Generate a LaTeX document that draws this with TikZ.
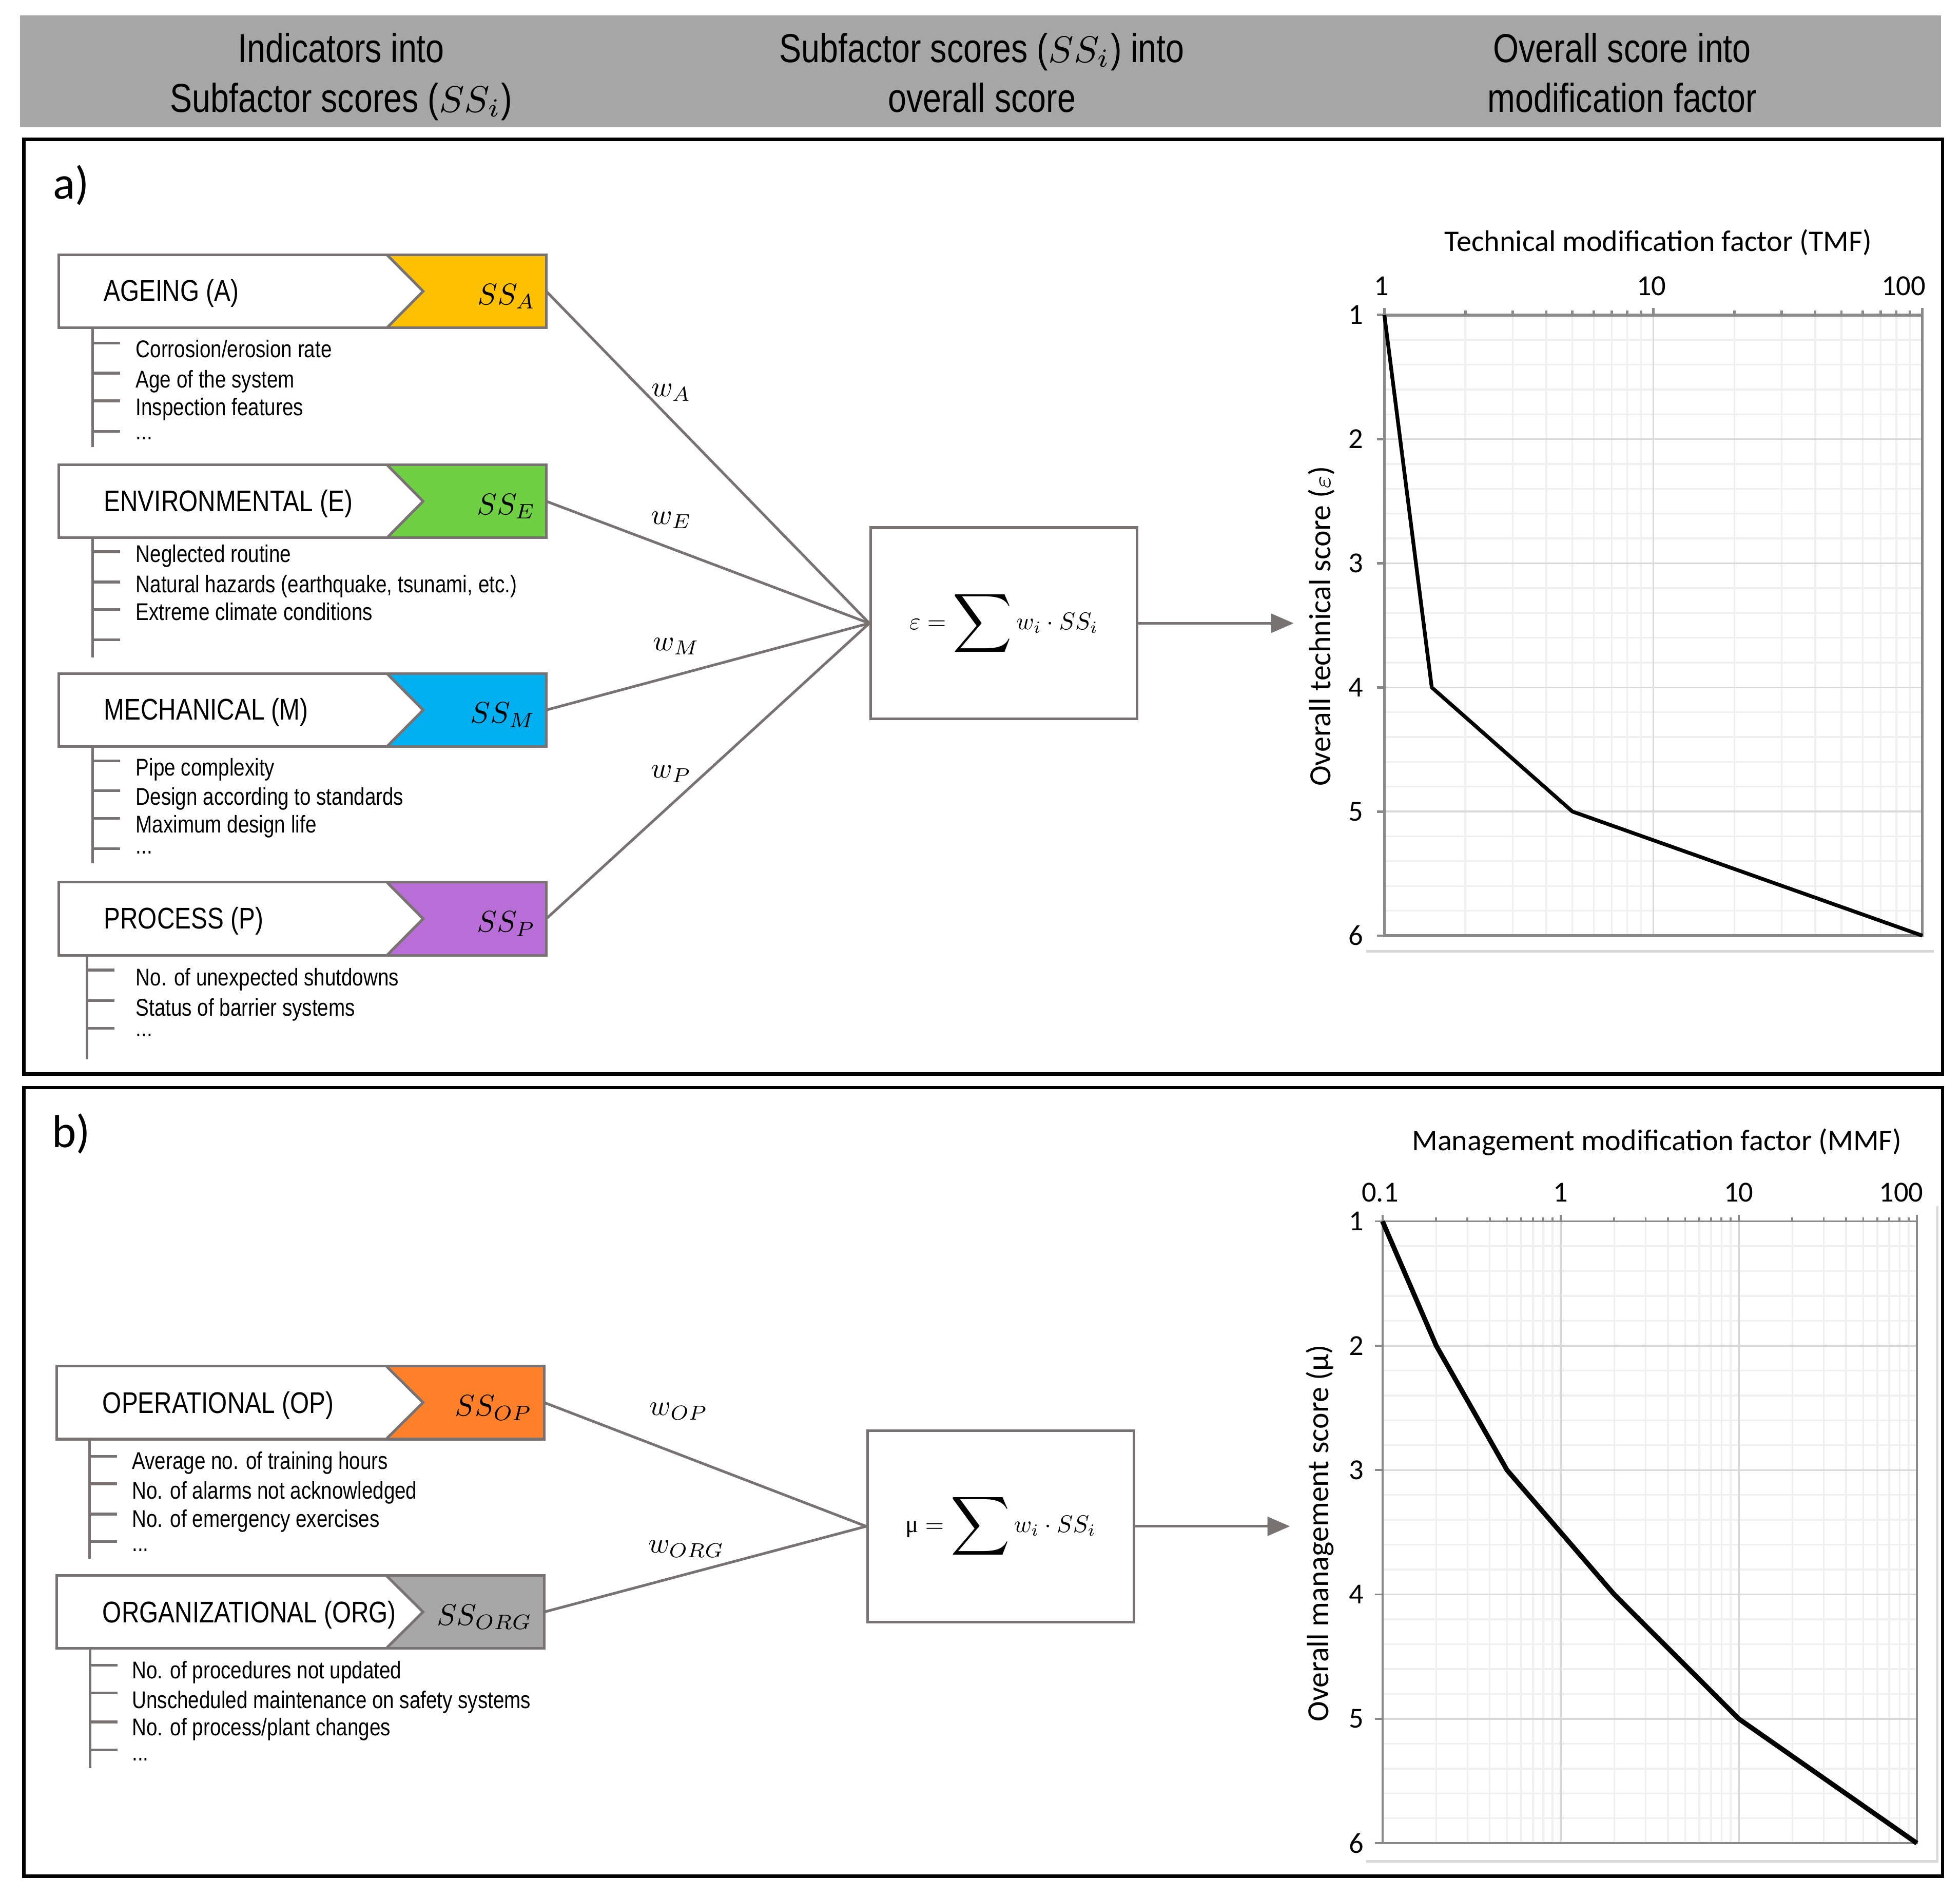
\RequirePackage{fix-cm}
\documentclass[tikz,border=0pt]{standalone}
\usepackage{fontspec}
\usepackage{graphicx}
\usepackage{tikz}
\usetikzlibrary{arrows.meta,positioning,calc}

\newfontfamily\narrowsf[FakeStretch=0.82]{Liberation Sans}
\newfontfamily\chartsf{Carlito}
\newfontfamily\muserif{Liberation Serif}

\definecolor{linegray}{RGB}{120,114,114}
\definecolor{headgray}{RGB}{166,166,166}
\definecolor{ssyellow}{RGB}{255,192,0}
\definecolor{ssgreen}{RGB}{110,208,66}
\definecolor{ssblue}{RGB}{0,176,240}
\definecolor{sspurple}{RGB}{185,110,215}
\definecolor{ssorange}{RGB}{255,128,40}
\definecolor{ssgray}{RGB}{166,166,166}
\definecolor{gridmaj}{RGB}{217,217,217}
\definecolor{gridmin}{RGB}{240,240,240}
\definecolor{axisgray}{RGB}{137,137,137}

\newcommand{\wsum}{\mathop{\vcenter{\hbox{\scalebox{1.7}{$\displaystyle\sum$}}}}}

\begin{document}
\begin{tikzpicture}[x=0.1mm,y=-0.1mm,
  factor/.style={minimum width=39mm,minimum height=5.85mm,inner sep=0pt,outer sep=0pt},
  boxline/.style={draw=linegray,line width=0.6pt},
  link/.style={linegray,line width=0.6pt},
  flow/.style={linegray,line width=0.6pt,-{Triangle[length=1.8mm,width=1.5mm]}},
  treeline/.style={linegray,line width=0.6pt},
  factorlab/.style={anchor=base west,inner sep=0pt,font=\narrowsf\fontsize{6.8}{8}\selectfont},
  sslab/.style={anchor=base east,inner sep=0pt,font=\fontsize{10}{12}\selectfont},
  wlab/.style={inner sep=0pt,font=\fontsize{10}{12}\selectfont},
  item/.style={anchor=base west,inner sep=0pt,font=\narrowsf\fontsize{5.5}{6.6}\selectfont},
  sumbox/.style={draw=linegray,line width=0.6pt,minimum width=21.3mm,minimum height=15.3mm,inner sep=0pt,font=\fontsize{10}{12}\selectfont},
  panel/.style={draw=black,line width=0.8pt},
  panlab/.style={inner sep=0pt,font=\chartsf\fontsize{10.5}{12}\selectfont},
  headtxt/.style={anchor=base,inner sep=0pt,font=\narrowsf\fontsize{9.2}{11}\selectfont},
  chartlab/.style={inner sep=0pt,font=\chartsf\fontsize{6.6}{8}\selectfont},
  charttitle/.style={anchor=base,inner sep=0pt,font=\chartsf\fontsize{6.8}{8}\selectfont},
  yaxtitle/.style={rotate=90,inner sep=0pt,font=\chartsf\fontsize{7}{8}\selectfont},
  gridmajor/.style={draw=gridmaj,line width=0.4pt},
  gridminor/.style={draw=gridmin,line width=0.4pt},
  axisline/.style={draw=axisgray,line width=0.55pt},
  chartframe/.style={draw=gridmaj,line width=0.5pt},
  curve/.style={black,line width=0.85pt,line join=round}]

  \useasboundingbox (0,0) rectangle (1568,1518);

  % ===== Header band =====
  \fill[headgray] (16,12.3) rectangle (1553,101.7);
  \node[headtxt] (head-1a) at (273,50) {Indicators into};
  \node[headtxt] (head-1b) at (273,89.7) {Subfactor scores (\scalebox{0.92}{$SS_i$})};
  \node[headtxt] (head-2a) at (785.5,50) {Subfactor scores (\scalebox{0.92}{$SS_i$}) into};
  \node[headtxt] (head-2b) at (785.5,89.7) {overall score};
  \node[headtxt] (head-3a) at (1297.7,50) {Overall score into};
  \node[headtxt] (head-3b) at (1297.7,89.7) {modification factor};

  % ===== Panels =====
  \draw[panel] (19,111.5) rectangle (1554,859);
  \draw[panel] (19,870) rectangle (1554,1501);
  \node[panlab] (panel-a) at (57,148) {a)};
  \node[panlab] (panel-b) at (57,907) {b)};

  % ===== a) technical subfactors =====
  \foreach \nm/\cy/\col/\lab/\subs in {ageing/233/ssyellow/AGEING (A)/A,
      environ/401/ssgreen/ENVIRONMENTAL (E)/E,
      mechan/568/ssblue/MECHANICAL (M)/M,
      process/735/sspurple/PROCESS (P)/P} {
    \node[factor] (\nm) at (242,\cy) {};
    \fill[\col] ([xshift=-12.75mm]\nm.north east) -- (\nm.north east) -- (\nm.south east)
      -- ([xshift=-12.75mm]\nm.south east) -- ([xshift=-9.85mm]\nm.east) -- cycle;
    \draw[boxline] ([xshift=-12.75mm]\nm.north east) -- ([xshift=-9.85mm]\nm.east)
      -- ([xshift=-12.75mm]\nm.south east);
    \draw[boxline] (\nm.south west) rectangle (\nm.north east);
    \node[factorlab] (\nm-lab) at ([xshift=3.55mm,yshift=-0.8mm]\nm.west) {\lab};
    \node[sslab] (\nm-ss) at ([xshift=-0.8mm,yshift=-1.05mm]\nm.east) {\scalebox{0.68}{$SS_{\subs}$}};
  }

  % --- ageing indicators
  \draw[treeline] ([xshift=2.7mm]ageing.south west) -- ++(0,95.4);
  \foreach \ty in {274.4,298.5,320.7,345} \draw[treeline] (74,\ty) -- ++(22,0);
  \node[item] (ageing-1) at (108,286) {Corrosion/erosion rate};
  \node[item] (ageing-2) at (108,310.3) {Age of the system};
  \node[item] (ageing-3) at (108,332.5) {Inspection features};
  \node[item] (ageing-4) at (108,351.5) {...};

  % --- environmental indicators
  \draw[treeline] ([xshift=2.7mm]environ.south west) -- ++(0,95.9);
  \foreach \ty in {441.4,465.6,487.4,511.9} \draw[treeline] (74,\ty) -- ++(22,0);
  \node[item] (environ-1) at (108,450) {Neglected routine};
  \node[item] (environ-2) at (108,474.2) {Natural hazards (earthquake, tsunami, etc.)};
  \node[item] (environ-3) at (108,496) {Extreme climate conditions};

  % --- mechanical indicators
  \draw[treeline] ([xshift=2.7mm]mechan.south west) -- ++(0,93.4);
  \foreach \ty in {608.6,632.6,654.6,678.8} \draw[treeline] (74,\ty) -- ++(22,0);
  \node[item] (mechan-1) at (108,620.6) {Pipe complexity};
  \node[item] (mechan-2) at (108,643.9) {Design according to standards};
  \node[item] (mechan-3) at (108,666.3) {Maximum design life};
  \node[item] (mechan-4) at (108,683) {...};

  % --- process indicators
  \draw[treeline] ([xshift=2.27mm,yshift=0.1mm]process.south west) -- ++(0,84);
  \foreach \ty in {776,800.5,822.6} \draw[treeline] (69.7,\ty) -- ++(22,0);
  \node[item] (process-1) at (108,788.4) {No. of unexpected shutdowns};
  \node[item] (process-2) at (108,812.6) {Status of barrier systems};
  \node[item] (process-3) at (108,829) {...};

  % --- weights into overall technical score
  \node[sumbox] (sumA) at (803,498.6) {\scalebox{0.55}{$\varepsilon = \wsum w_i \cdot SS_i$}};
  \foreach \nm/\wl/\lx/\ly in {ageing/A/537/314, environ/E/537/416,
      mechan/M/541/517, process/P/537/619} {
    \draw[link] (\nm.east) -- (sumA.west);
    \node[wlab] (w-\nm) at (\lx,\ly) {\scalebox{0.66}{$w_{\wl}$}};
  }
  \coordinate (tmfin) at (1035,498.6);
  \draw[flow] (sumA) -- (tmfin);

  % ===== TMF chart =====
  \begin{scope}[shift={(1107.5,252)},x=21.52mm,y=-9.93mm]
    \foreach \d in {0,1}
      \foreach \k in {2,...,9}
        \draw[gridminor] ({\d+log10(\k)},0) -- ({\d+log10(\k)},5);
    \foreach \s in {1,...,24} \draw[gridminor] (0,\s/5) -- (2,\s/5);
    \foreach \s in {1,...,4} \draw[gridmajor] (0,\s) -- (2,\s);
    \draw[gridmajor] (1,0) -- (1,5);
    % axes and ticks
    \draw[axisline,line width=0.65pt] (0,0) rectangle (2,5);
    \foreach \d in {0,1}
      \foreach \k in {2,...,9}
        \draw[axisline] ({\d+log10(\k)},0) -- ++(0pt,0.35mm);
    \foreach \d in {0,1,2} \draw[axisline] (\d,0) -- ++(0pt,0.55mm);
    \foreach \s in {0,...,5} \draw[axisline] (0,\s) -- ++(-0.6mm,0pt);
    % curve
    \draw[curve] (0,0) -- ({log10(1.5)},3) -- ({log10(5)},4) -- (2,5);
    % tick labels
    \node[chartlab] (tmf-1) at ([xshift=-0.25mm,yshift=2.3mm]0,0) {1};
    \node[chartlab] (tmf-10) at ([xshift=-0.15mm,yshift=2.3mm]1,0) {10};
    \node[chartlab] (tmf-100) at ([xshift=-1.5mm,yshift=2.3mm]2,0) {100};
    \foreach \s in {1,...,6}
      \node[chartlab,anchor=east] (tsc-\s) at ([xshift=-1.63mm]0,\s-1) {\s};
  \end{scope}
  \draw[chartframe] (1093,761) -- (1547,761);
  \node[charttitle] (tmf-title) at (1326.6,201) {Technical modification factor (TMF)};
  \node[yaxtitle] (tsc-title) at (1057,501) {Overall technical score (\scalebox{0.8}{$\varepsilon$})};

  % ===== b) management subfactors =====
  \foreach \nm/\cy/\col/\lab/\subs in {operat/1122/ssorange/OPERATIONAL (OP)/OP,
      organ/1289.5/ssgray/ORGANIZATIONAL (ORG)/ORG} {
    \node[factor] (\nm) at (240.4,\cy) {};
    \fill[\col] ([xshift=-12.65mm]\nm.north east) -- (\nm.north east) -- (\nm.south east)
      -- ([xshift=-12.65mm]\nm.south east) -- ([xshift=-9.7mm]\nm.east) -- cycle;
    \draw[boxline] ([xshift=-12.65mm]\nm.north east) -- ([xshift=-9.7mm]\nm.east)
      -- ([xshift=-12.65mm]\nm.south east);
    \draw[boxline] (\nm.south west) rectangle (\nm.north east);
    \node[factorlab] (\nm-lab) at ([xshift=3.6mm,yshift=-0.85mm]\nm.west) {\lab};
    \node[sslab] (\nm-ss) at ([xshift=-0.9mm,yshift=-1.05mm]\nm.east) {\scalebox{0.68}{$SS_{\subs}$}};
  }

  % --- operational indicators
  \draw[treeline] ([xshift=2.62mm]operat.south west) -- ++(0,95.6);
  \foreach \ty in {1165,1187,1211.2,1233.2} \draw[treeline] (71.7,\ty) -- ++(22,0);
  \node[item] (operat-1) at (105,1175.4) {Average no. of training hours};
  \node[item] (operat-2) at (105,1199.1) {No. of alarms not acknowledged};
  \node[item] (operat-3) at (105,1221.5) {No. of emergency exercises};
  \node[item] (operat-4) at (105,1240.9) {...};

  % --- organizational indicators
  \draw[treeline] ([xshift=2.66mm]organ.south west) -- ++(0,95.75);
  \foreach \ty in {1332,1354.2,1377.5,1400} \draw[treeline] (72.1,\ty) -- ++(22,0);
  \node[item] (organ-1) at (105,1342.6) {No. of procedures not updated};
  \node[item] (organ-2) at (105,1366.5) {Unscheduled maintenance on safety systems};
  \node[item] (organ-3) at (105,1388.4) {No. of process/plant changes};
  \node[item] (organ-4) at (105,1408.3) {...};

  % --- weights into overall management score
  \node[sumbox] (sumB) at (800.5,1221) {\scalebox{0.55}{$\mbox{\muserif μ} = \wsum w_i \cdot SS_i$}};
  \foreach \nm/\wl/\lx/\ly in {operat/OP/543/1129, organ/ORG/549/1239} {
    \draw[link] (\nm.east) -- (sumB.west);
    \node[wlab] (w-\nm) at (\lx,\ly) {\scalebox{0.66}{$w_{\wl}$}};
  }
  \coordinate (mmfin) at (1032,1221);
  \draw[flow] (sumB) -- (mmfin);

  % ===== MMF chart =====
  \begin{scope}[shift={(1106,977)},x=14.25mm,y=-9.95mm]
    \foreach \d in {0,1,2}
      \foreach \k in {2,...,9}
        \draw[gridminor] ({\d+log10(\k)},0) -- ({\d+log10(\k)},5);
    \foreach \s in {1,...,24} \draw[gridminor] (0,\s/5) -- (3,\s/5);
    \foreach \s in {1,...,4} \draw[gridmajor] (0,\s) -- (3,\s);
    \foreach \d in {1,2} \draw[gridmajor] (\d,0) -- (\d,5);
    % axes and ticks
    \draw[axisline,line width=0.45pt] (0,0) rectangle (3,5);
    \foreach \d in {0,1,2}
      \foreach \k in {2,...,9}
        \draw[axisline,line width=0.45pt] ({\d+log10(\k)},0) -- ++(0pt,0.33mm);
    \foreach \d in {0,1,2,3} \draw[axisline,line width=0.45pt] (\d,0) -- ++(0pt,0.5mm);
    \foreach \s in {0,...,5} \draw[axisline,line width=0.45pt] (0,\s) -- ++(-0.6mm,0pt);
    % curve
    \draw[curve,line width=1.1pt] (0,0) -- ({1+log10(0.2)},1) -- ({1+log10(0.5)},2)
      -- ({1+log10(2)},3) -- (2,4) -- (3,5);
    % tick labels
    \node[chartlab] (mmf-01) at ([xshift=-0.2mm,yshift=2.3mm]0,0) {0.1};
    \node[chartlab] (mmf-1) at ([yshift=2.3mm]1,0) {1};
    \node[chartlab] (mmf-10) at ([yshift=2.3mm]2,0) {10};
    \node[chartlab] (mmf-100) at ([xshift=-1.25mm,yshift=2.3mm]3,0) {100};
    \foreach \s in {1,...,6}
      \node[chartlab,anchor=east] (msc-\s) at ([xshift=-1.45mm]0,\s-1) {\s};
  \end{scope}
  \draw[chartframe] (1093,1489) -- (1550,1489) -- (1550,965);
  \node[charttitle] (mmf-title) at (1325.5,920.3) {Management modification factor (MMF)};
  \node[yaxtitle] (msc-title) at (1056,1226.5) {Overall management score (μ)};
\end{tikzpicture}
\end{document}
